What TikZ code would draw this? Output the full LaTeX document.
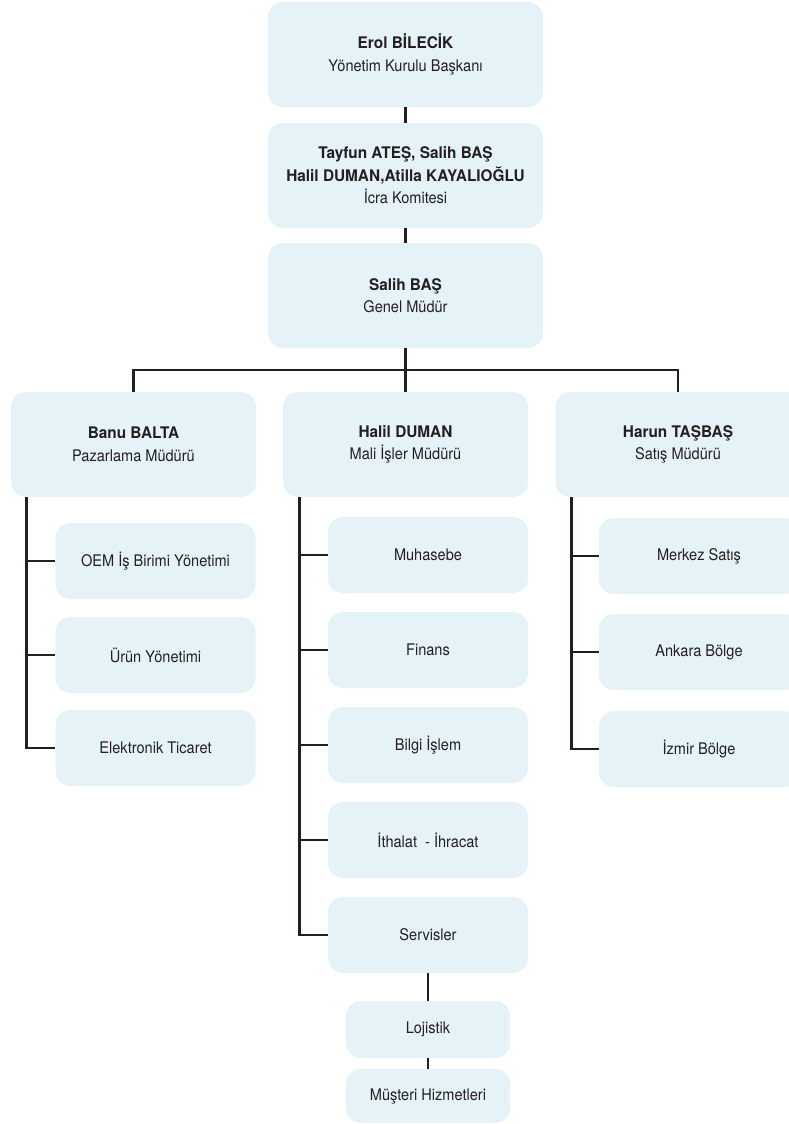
\documentclass[tikz,border=0pt]{standalone}
\usepackage{fontspec}
\setmainfont[FakeStretch=0.91,BoldFeatures={FakeStretch=0.96}]{TeX Gyre Heros}
\usetikzlibrary{calc}
\definecolor{boxfill}{HTML}{E5F3F8}
\definecolor{ink}{HTML}{231F20}
\begin{document}
\begin{tikzpicture}[x=1pt,y=-1pt,
  box/.style={fill=boxfill, draw=none, rounded corners=15pt, align=center,
    text=ink, font=\fontsize{16}{22.5}\selectfont, inner sep=0pt},
  big/.style={box, minimum width=275pt, minimum height=105pt},
  mid/.style={box, minimum width=245pt, minimum height=105pt},
  sub/.style={box, minimum width=200pt, minimum height=76pt},
  small/.style={box, minimum width=164pt},
  link/.style={draw=ink, line width=2.8pt}]
\useasboundingbox (0,0) rectangle (789,1124);
% top chain
\node[big] (erol) at (405.5,54.5) {{\bfseries Erol BİLECİK}\\Yönetim Kurulu Başkanı};
\node[big] (icra) at (405.5,175.5) {{\bfseries Tayfun ATEŞ, Salih BAŞ}\\{\bfseries Halil DUMAN,Atilla KAYALIOĞLU}\\İcra Komitesi};
\node[big] (genel) at (405.5,295.5) {{\bfseries Salih BAŞ}\\Genel Müdür};
% managers
\node[mid] (banu) at (133.5,444.5) {{\bfseries Banu BALTA}\\Pazarlama Müdürü};
\node[mid] (halil) at (405.5,444.5) {{\bfseries Halil DUMAN}\\Mali İşler Müdürü};
\node[mid] (harun) at (678,444.5) {{\bfseries Harun TAŞBAŞ}\\Satış Müdürü};
% left children
\node[sub] (oem) at (155.5,561) {OEM İş Birimi Yönetimi};
\node[sub] (urun) at (155.5,655) {Ürün Yönetimi};
\node[sub] (elek) at (155.5,748) {Elektronik Ticaret};
% middle children
\node[sub] (muh) at (428,555) {Muhasebe};
\node[sub] (fin) at (428,650) {Finans};
\node[sub] (bilgi) at (428,745) {Bilgi İşlem};
\node[sub] (ith) at (428,840) {İthalat \ - İhracat};
\node[sub] (serv) at (428,935) {Servisler};
\node[small, minimum height=57pt] (loj) at (428,1029.5) {Lojistik};
\node[small, minimum height=54pt] (must) at (428,1096) {Müşteri Hizmetleri};
% right children
\node[sub] (merkez) at (699,556) {Merkez Satış};
\node[sub] (ankara) at (699,652) {Ankara Bölge};
\node[sub] (izmir) at (699,749) {İzmir Bölge};
% connectors
\draw[link] (erol.south) -- (icra.north);
\draw[link] (icra.south) -- (genel.north);
\coordinate (bar) at (405.5,370);
\draw[link] (genel.south) -- (bar);
\draw[link] (banu.north) |- (bar) -| (harun.north);
\draw[link] (bar) -- (halil.north);
% left spine
\coordinate (ls) at ($(banu.south west)+(16,0)$);
\draw[link] (ls) |- (elek.west);
\draw[link] (oem.west) -- (oem.west -| ls);
\draw[link] (urun.west) -- (urun.west -| ls);
% middle spine
\coordinate (ms) at ($(halil.south west)+(17,0)$);
\draw[link] (ms) |- (serv.west);
\draw[link] (muh.west) -- (muh.west -| ms);
\draw[link] (fin.west) -- (fin.west -| ms);
\draw[link] (bilgi.west) -- (bilgi.west -| ms);
\draw[link] (ith.west) -- (ith.west -| ms);
\draw[link] (serv.south) -- (loj.north);
\draw[link] (loj.south) -- (must.north);
% right spine
\coordinate (rs) at ($(harun.south west)+(16.5,0)$);
\draw[link] (rs) |- (izmir.west);
\draw[link] (merkez.west) -- (merkez.west -| rs);
\draw[link] (ankara.west) -- (ankara.west -| rs);
\end{tikzpicture}
\end{document}
